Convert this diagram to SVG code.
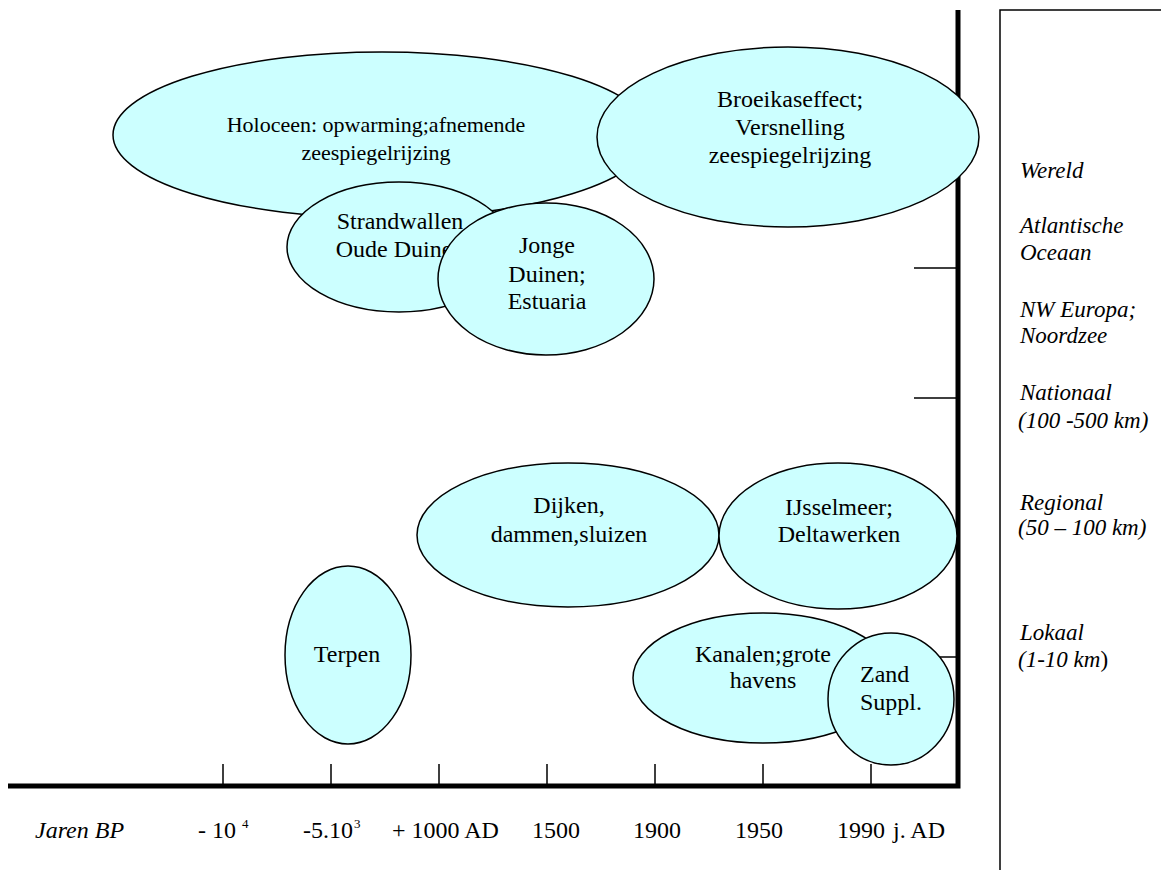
<svg xmlns="http://www.w3.org/2000/svg" width="1161" height="870" viewBox="0 0 1161 870">
<style>
.n{fill:#CCFFFF;stroke:#000;stroke-width:1.5}
.t{font-family:"Liberation Serif","Times New Roman",serif;font-size:24px;fill:#000}
.c{text-anchor:middle}
.i{font-style:italic}
.s{font-size:13px}
.h{font-size:22px}
.r{font-family:"Liberation Serif","Times New Roman",serif;font-size:23px;font-style:italic;fill:#000}
.tk{stroke:#000;stroke-width:1.5;fill:none}
</style>
<rect width="1161" height="870" fill="#fff"/>
<g id="panel">
<path d="M1000 870 V10 H1161" class="tk"/>
<text class="r" x="1020" y="178">Wereld</text>
<text class="r" x="1020" y="233">Atlantische</text>
<text class="r" x="1020" y="260">Oceaan</text>
<text class="r" x="1020" y="317">NW Europa;</text>
<text class="r" x="1020" y="343">Noordzee</text>
<text class="r" x="1020" y="400">Nationaal</text>
<text class="r" x="1018" y="428">(100 -500 km)</text>
<text class="r" x="1020" y="510">Regional</text>
<text class="r" x="1018" y="535">(50 – 100 km)</text>
<text class="r" x="1020" y="640">Lokaal</text>
<text class="r" x="1018" y="667">(1-10 km<tspan font-style="normal">)</tspan></text>
</g>
<g id="connectors">
<path d="M8 786 H958 V10" fill="none" stroke="#000" stroke-width="5"/>
<path class="tk" d="M223 764 V786 M331 764 V786 M439 764 V786 M547 764 V786 M655 764 V786 M763 764 V786 M871 764 V786 M914 268 H958 M914 398 H958 M914 657 H958"/>
</g>
<g id="axis-labels">
<text class="t i" x="35" y="838">Jaren BP</text>
<text class="t" x="198" y="838">- 10</text>
<text class="t s" x="242" y="828">4</text>
<text class="t" x="303" y="838">-5.10</text>
<text class="t s" x="354" y="828">3</text>
<text class="t" x="392" y="838">+ 1000 AD</text>
<text class="t" x="532" y="838">1500</text>
<text class="t" x="633" y="838">1900</text>
<text class="t" x="735" y="838">1950</text>
<text class="t" x="837" y="838">1990</text>
<text class="t" x="893" y="838">j. AD</text>
</g>
<g id="holoceen">
<ellipse class="n" cx="382" cy="135" rx="269" ry="83"/>
<text class="t c h" x="376" y="132">Holoceen: opwarming;afnemende</text>
<text class="t c h" x="376" y="160">zeespiegelrijzing</text>
</g>
<g id="broeikas">
<ellipse class="n" cx="788" cy="137" rx="191" ry="90"/>
<text class="t c" x="790" y="107">Broeikaseffect;</text>
<text class="t c" x="790" y="135">Versnelling</text>
<text class="t c" x="790" y="163">zeespiegelrijzing</text>
</g>
<g id="strandwallen">
<ellipse class="n" cx="399" cy="247" rx="112" ry="65"/>
<text class="t c" x="400" y="229">Strandwallen</text>
<text class="t c" x="400" y="257">Oude Duinen</text>
</g>
<g id="jonge">
<ellipse class="n" cx="546" cy="279" rx="108" ry="76"/>
<text class="t c" x="547" y="253">Jonge</text>
<text class="t c" x="547" y="282">Duinen;</text>
<text class="t c" x="547" y="309">Estuaria</text>
</g>
<g id="dijken">
<ellipse class="n" cx="568" cy="535" rx="151" ry="72"/>
<text class="t c" x="569" y="513">Dijken,</text>
<text class="t c" x="569" y="542">dammen,sluizen</text>
</g>
<g id="ijsselmeer">
<ellipse class="n" cx="838" cy="536" rx="119" ry="73"/>
<text class="t c" x="839" y="515">IJsselmeer;</text>
<text class="t c" x="839" y="542">Deltawerken</text>
</g>
<g id="terpen">
<ellipse class="n" cx="348" cy="655" rx="63" ry="89"/>
<text class="t c" x="347" y="662">Terpen</text>
</g>
<g id="kanalen">
<ellipse class="n" cx="763" cy="678" rx="130" ry="65"/>
<text class="t c" x="763" y="662">Kanalen;grote</text>
<text class="t c" x="763" y="688">havens</text>
</g>
<g id="zand">
<ellipse class="n" cx="891" cy="699" rx="63" ry="66"/>
<text class="t" x="860" y="682">Zand</text>
<text class="t" x="860" y="710">Suppl.</text>
</g>
</svg>
